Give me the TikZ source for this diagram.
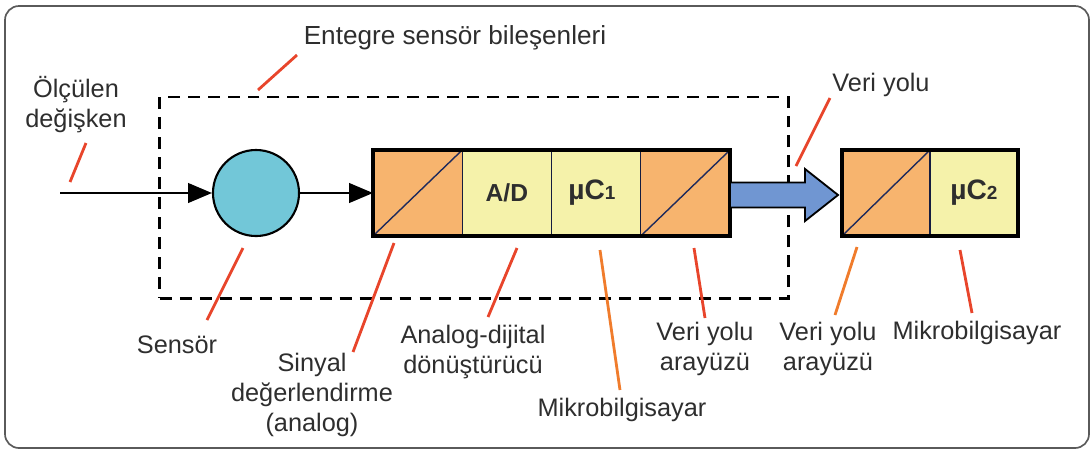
\documentclass[tikz,border=0pt]{standalone}
\usepackage{fontspec}
\setmainfont{Liberation Sans}
\usetikzlibrary{arrows.meta}

\definecolor{txtgray}{HTML}{2E2E2E}
\definecolor{framegray}{HTML}{5A5A5A}
\definecolor{cellorange}{HTML}{F7B46E}
\definecolor{cellyellow}{HTML}{F5F2AA}
\definecolor{sensorcyan}{HTML}{72C7D8}
\definecolor{busblue}{HTML}{7096D2}
\definecolor{diagnavy}{HTML}{1E2A5C}
\definecolor{leadred}{HTML}{E8452B}
\definecolor{leadorange}{HTML}{F07C2C}

% controller name with its small index digit
\newcommand{\ctrlname}[1]{{\fontsize{20}{20}\selectfont µC}{\fontsize{13.5}{13.5}\selectfont #1}}

\begin{document}
\begin{tikzpicture}[x=0.025cm, y=-0.025cm,
  lbl/.style={font=\fontsize{18}{21.3}\selectfont, text=txtgray, align=center, inner sep=0pt},
  cell/.style={draw=diagnavy!70!black, line width=0.9pt, minimum width=2.231cm,
    minimum height=2.15cm, inner sep=0pt, outer sep=0pt,
    font=\fontsize{17.5}{20}\selectfont\bfseries, text=txtgray},
  conv/.style={cell, fill=cellorange},
  proc/.style={cell, fill=cellyellow},
  diag/.style={draw=diagnavy, line width=1pt},
  frameline/.style={draw=black, line width=2.4pt},
  leader/.style={draw=leadred, line width=2pt},
  leaderb/.style={draw=leadorange, line width=2pt},
  signal/.style={draw=black, line width=1.5pt,
    -{Triangle[length=17pt, width=14pt]}},
  groupbox/.style={draw=black, line width=2.1pt, dash pattern=on 8.5pt off 5.7pt,
    minimum width=15.7cm, minimum height=5.025cm, inner sep=0pt}
]
\useasboundingbox (0,0) rectangle (1091,450);

% outer frame
\draw[framegray, line width=1.2pt, rounded corners=0.35cm] (5,6) rectangle (1089,448);

% dashed group of the integrated components
\node[groupbox] (grp) at (474,197.5) {};

% sensor element
\node[circle, draw=black, line width=1.5pt, fill=sensorcyan, minimum size=2.15cm,
  inner sep=0pt] (sensor) at (256,193) {};

% first chain: conditioning, A/D, microcontroller, bus interface
\node[conv] (c1) at (417.6,193) {};
\node[proc] (c2) at (506.9,193) {A/D};
\node[proc] (c3) at (596.1,193) {\ctrlname{1}\hspace*{6pt}};
\node[conv] (c4) at (685.4,193) {};
\draw[diag] (c1.south west) -- (c1.north east);
\draw[diag] (c4.south west) -- (c4.north east);
\draw[frameline] (c1.north west) rectangle (c4.south east);

% second chain: bus interface, microcontroller
\node[conv, minimum width=2.2cm] (d1) at (886,193) {};
\node[proc, minimum width=2.2cm] (d2) at (974,193) {\ctrlname{2}};
\draw[diag] (d1.south west) -- (d1.north east);
\draw[frameline] (d1.north west) rectangle (d2.south east);

% measured quantity in, sensor to conditioning
\coordinate (in) at (60,193);
\draw[signal] (in) -- (sensor.west);
\draw[signal] (sensor.east) -- (c1.west);

% data bus arrow
\draw[fill=busblue, line width=1.3pt, line join=miter]
  (c4.east) ++(0,-10.5) -- ++(75,0) -- ++(0,-13.5) -- ++(33,26)
  -- ++(-33,26) -- ++(0,-13.5) -- ++(-75,0) -- cycle;

% labels
\node[lbl, font=\fontsize{18.6}{21.3}\selectfont] (tEnt) at (455,38) {Entegre sensör bileşenleri};
\node[lbl] (tIn) at (76,105) {Ölçülen\\değişken};
\node[lbl] (tBus) at (881,85) {Veri yolu};
\node[lbl] (tSen) at (177,345) {Sensör};
\node[lbl] (tSig) at (312,395) {Sinyal\\değerlendirme\\(analog)};
\node[lbl] (tAD) at (473,352) {Analog-dijital\\dönüştürücü};
\node[lbl] (tMc1) at (622,410) {Mikrobilgisayar};
\node[lbl] (tIf1) at (705,349) {Veri yolu\\arayüzü};
\node[lbl] (tIf2) at (828,349) {Veri yolu\\arayüzü};
\node[lbl] (tMc2) at (977,333) {Mikrobilgisayar};

% leader lines
\coordinate (lEntA) at (297,55);  \coordinate (lEntB) at (258,90);
\coordinate (lInA)  at (86,143);  \coordinate (lInB)  at (70,182);
\coordinate (lBusA) at (830,98);  \coordinate (lBusB) at (796,166);
\coordinate (lSenA) at (243,248); \coordinate (lSenB) at (207,320);
\coordinate (lSigA) at (394,243); \coordinate (lSigB) at (353,352);
\coordinate (lADA)  at (517,248); \coordinate (lADB)  at (488,317);
\coordinate (lMc1A) at (600,250); \coordinate (lMc1B) at (620,390);
\coordinate (lIf1A) at (694,248); \coordinate (lIf1B) at (705,318);
\coordinate (lIf2A) at (857,247); \coordinate (lIf2B) at (835,315);
\coordinate (lMc2A) at (960,250); \coordinate (lMc2B) at (972,313);
\draw[leader]  (lEntA) -- (lEntB);
\draw[leader]  (lInA)  -- (lInB);
\draw[leader]  (lBusA) -- (lBusB);
\draw[leader]  (lSenA) -- (lSenB);
\draw[leader]  (lSigA) -- (lSigB);
\draw[leader]  (lADA)  -- (lADB);
\draw[leaderb] (lMc1A) -- (lMc1B);
\draw[leader]  (lIf1A) -- (lIf1B);
\draw[leaderb] (lIf2A) -- (lIf2B);
\draw[leader]  (lMc2A) -- (lMc2B);
\end{tikzpicture}
\end{document}
